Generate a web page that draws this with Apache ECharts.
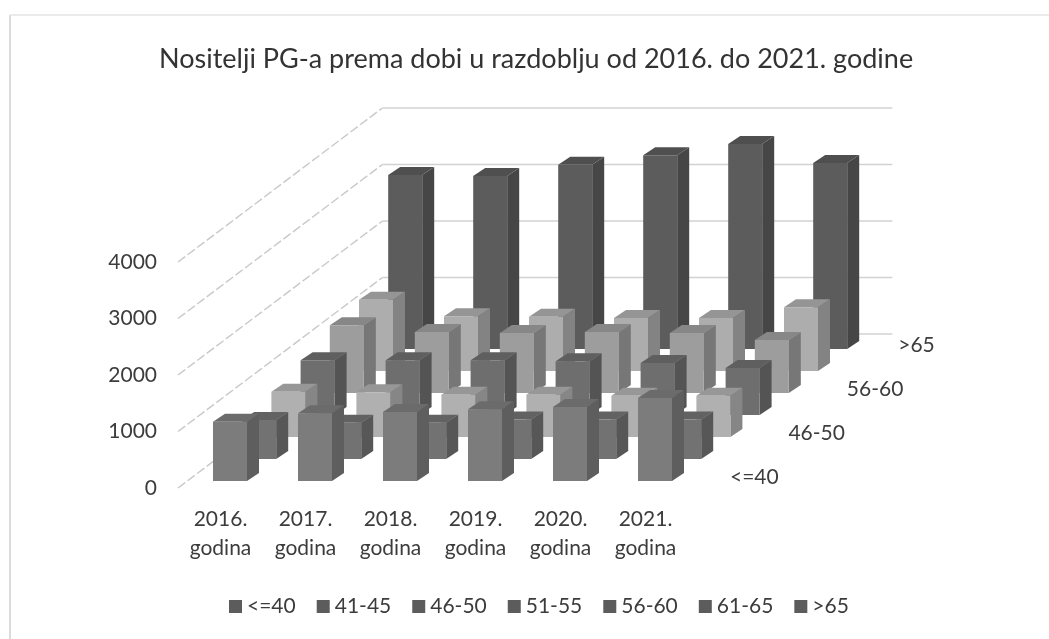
<!DOCTYPE html>
<html>
<head>
<meta charset="utf-8">
<title>Nositelji PG-a</title>
<script src="https://cdn.jsdelivr.net/npm/echarts@6/dist/echarts.min.js"></script>
<style>
  html, body { margin: 0; padding: 0; background: #fff; }
  #chart { width: 1049px; height: 639px; }
</style>
</head>
<body>
<div id="chart"></div>
<script>
var years = ["2016.\ngodina", "2017.\ngodina", "2018.\ngodina", "2019.\ngodina", "2020.\ngodina", "2021.\ngodina"];
var ageGroups = ["<=40", "41-45", "46-50", "51-55", "56-60", "61-65", ">65"];
var depthLabels = ["<=40", "", "46-50", "", "56-60", "", ">65"];
var wallTicks = [0, 1000, 2000, 3000, 4000];

var age40 = [1050, 1200, 1220, 1270, 1310, 1470];
var age45 = [690, 640, 640, 700, 700, 700];
var age50 = [800, 790, 750, 750, 730, 730];
var age55 = [970, 970, 970, 950, 920, 830];
var age60 = [1200, 1080, 1060, 1080, 1060, 940];
var age65 = [1260, 970, 960, 940, 940, 1130];
var age70 = [3080, 3060, 3260, 3430, 3630, 3290];
var ageValues = [age40, age45, age50, age55, age60, age65, age70];

var ageColors = ["#7c7c7c", "#727272", "#b0b0b0", "#6e6e6e", "#9d9d9d", "#adadad", "#5c5c5c"];

// pseudo 3D depth: one row back moves the bar right and up by this many px
var rowX = 29.2, rowY = 22;
var barW = 34, barDepthX = 12, barDepthY = 8;
var rowGapX = 9.5, rowGapY = 7;
var font = "Lato";
var textColor = "#3c3c3c";

// echarts.color.lift only lightens, so darken the faces by hand
function shade(color, k) {
  var c = echarts.color.parse(color);
  return "rgb(" + Math.round(c[0] * k) + "," + Math.round(c[1] * k) + "," + Math.round(c[2] * k) + ")";
}

function renderBar(depth, color) {
  return function (params, api) {
    var i = api.value(0);
    var top = api.coord([i, api.value(1)]);
    var base = api.coord([i, 0]);
    var x0 = base[0] - barW / 2 + rowGapX + depth * rowX;
    var x1 = x0 + barW;
    var y0 = base[1] - rowGapY - depth * rowY;
    var y1 = y0 - (base[1] - top[1]);
    return {
      type: "group",
      children: [
        {
          type: "polygon",
          shape: { points: [[x1, y0], [x1 + barDepthX, y0 - barDepthY], [x1 + barDepthX, y1 - barDepthY], [x1, y1]] },
          style: { fill: shade(color, 0.76) }
        },
        {
          type: "polygon",
          shape: { points: [[x0, y1], [x1, y1], [x1 + barDepthX, y1 - barDepthY], [x0 + barDepthX, y1 - barDepthY]] },
          style: { fill: shade(color, 0.86) }
        },
        {
          type: "polygon",
          shape: { points: [[x0, y0], [x1, y0], [x1, y1], [x0, y1]] },
          style: { fill: color }
        }
      ]
    };
  };
}

function renderWall(params, api) {
  var c = params.coordSys;
  var p = api.coord([0, api.value(0)]);
  var backX = c.x + rowX * 7;
  var backY = p[1] - rowY * 7;
  return {
    type: "group",
    children: [
      {
        type: "line",
        shape: { x1: c.x, y1: p[1], x2: backX, y2: backY },
        style: { stroke: "#c9c9c9", lineWidth: 1.4, lineDash: [9, 3] }
      },
      {
        type: "line",
        shape: { x1: backX, y1: backY, x2: backX + c.width, y2: backY },
        style: { stroke: "#d2d2d2", lineWidth: 1.6 }
      }
    ]
  };
}

function renderDepthLabel(params, api) {
  var c = params.coordSys;
  var d = params.dataIndex;
  return {
    type: "text",
    x: c.x + c.width + 42 + d * rowX - (d === 6 ? 7 : 0),
    y: c.y + c.height - 11 - d * rowY,
    style: {
      text: depthLabels[d],
      fill: textColor,
      font: "21px " + font,
      textVerticalAlign: "middle"
    }
  };
}

var series = [
  {
    type: "custom",
    name: "wall",
    z: 1,
    silent: true,
    renderItem: renderWall,
    data: wallTicks.map(function (t) { return [t]; })
  },
  {
    type: "custom",
    name: "depth",
    z: 1,
    silent: true,
    renderItem: renderDepthLabel,
    data: depthLabels.map(function (t, i) { return [i]; })
  }
];
ageGroups.forEach(function (name, d) {
  series.push({
    type: "custom",
    name: name,
    z: 10 - d,
    itemStyle: { color: ageColors[d] },
    renderItem: renderBar(d, ageColors[d]),
    encode: { x: 0, y: 1 },
    data: ageValues[d].map(function (v, i) { return [i, v]; })
  });
});

var option = {
  animation: false,
  backgroundColor: "#fff",
  title: {
    text: "Nositelji PG-a prema dobi u razdoblju od 2016. do 2021. godine",
    left: 154,
    top: 41,
    textStyle: { color: "#333", fontSize: 27, fontWeight: "normal", fontFamily: font }
  },
  grid: { left: 178, right: 361, top: 262, bottom: 151 },
  legend: {
    data: ageGroups,
    left: 224,
    top: 591,
    icon: "rect",
    itemWidth: 13,
    itemHeight: 13,
    itemGap: 21,
    selectedMode: false,
    itemStyle: { color: "#5c5c5c" },
    textStyle: { color: textColor, fontSize: 21, fontFamily: font }
  },
  xAxis: {
    type: "category",
    data: years,
    axisLine: { show: false },
    axisTick: { show: false },
    axisLabel: { color: textColor, fontSize: 21, fontFamily: font, lineHeight: 29, margin: 17, interval: 0 }
  },
  yAxis: {
    type: "value",
    min: 0,
    max: 4000,
    interval: 1000,
    axisLine: { show: false },
    axisTick: { show: false },
    splitLine: { show: false },
    axisLabel: {
      color: textColor,
      fontSize: 21,
      fontFamily: font,
      margin: 21,
      formatter: function (v) { return String(v); }
    }
  },
  graphic: [
    { type: "line", shape: { x1: 10, y1: 15, x2: 10, y2: 639 }, style: { stroke: "#c4c4c4", lineWidth: 1.2 } },
    { type: "line", shape: { x1: 10, y1: 15, x2: 1049, y2: 15 }, style: { stroke: "#e4e4e4", lineWidth: 1.6 } }
  ],
  series: series
};

var chart = echarts.init(document.getElementById("chart"));
chart.setOption(option);
</script>
</body>
</html>
